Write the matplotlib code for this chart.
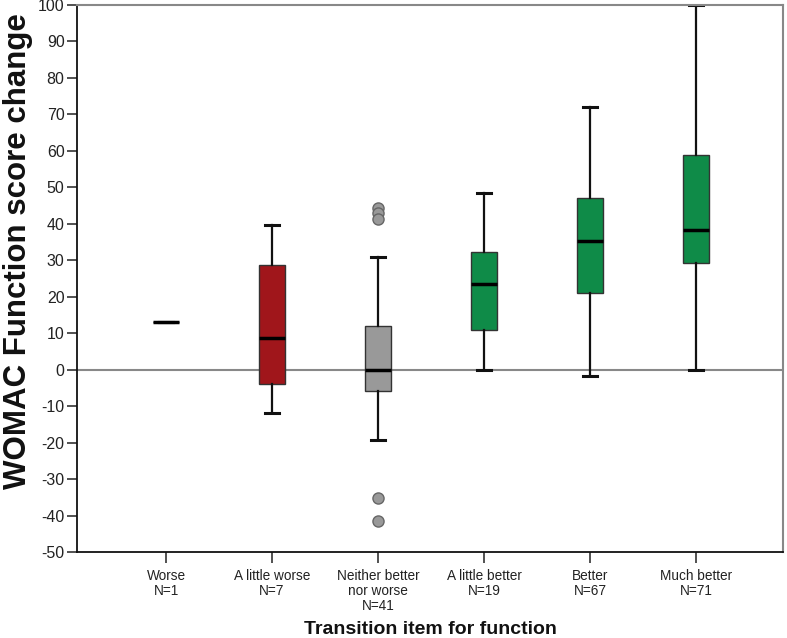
import matplotlib
matplotlib.use("Agg")
import matplotlib.pyplot as plt

plt.rcParams["font.family"] = ["Liberation Sans", "DejaVu Sans"]
plt.rcParams["axes.unicode_minus"] = False

# Category labels and box statistics
categories = ["Worse\nN=1", "A little worse\nN=7", "Neither better\nnor worse\nN=41",
              "A little better\nN=19", "Better\nN=67", "Much better\nN=71"]
medians = [13.2, 8.8, 0.0, 23.6, 35.3, 38.4]
q1 = [13.2, -3.8, -5.9, 11.0, 21.1, 29.3]
q3 = [13.2, 28.8, 11.9, 32.3, 47.1, 58.9]
whislo = [13.2, -11.8, -19.2, 0.0, -1.6, 0.0]
whishi = [13.2, 39.7, 31.0, 48.5, 72.0, 100.0]
fliers = [[], [], [44.4, 43.0, 41.4, -35.3, -41.4], [], [], []]
colors = ["#a0161b", "#a0161b", "#999999", "#0f8b48", "#0f8b48", "#0f8b48"]

stats = []
for i in range(len(categories)):
    stats.append({
        "med": medians[i], "q1": q1[i], "q3": q3[i],
        "whislo": whislo[i], "whishi": whishi[i], "fliers": fliers[i],
    })

fig = plt.figure(figsize=(7.87, 6.38), dpi=100)
ax = fig.add_axes([77 / 787, 1 - 552 / 638, 706 / 787, 547 / 638])

ax.axhline(0, color="#888888", lw=1.5, zorder=1)

positions = list(range(1, len(categories) + 1))
bp = ax.bxp(stats, positions=positions, widths=0.25, patch_artist=True,
            showfliers=True, capwidths=0.13,
            boxprops=dict(edgecolor="#333333", linewidth=1.0),
            medianprops=dict(color="black", linewidth=2.5),
            whiskerprops=dict(color="#111111", linewidth=1.6),
            capprops=dict(color="#111111", linewidth=2.2),
            flierprops=dict(marker="o", markersize=8, markerfacecolor="#999999",
                            markeredgecolor="#666666", markeredgewidth=1.0))
for patch, c in zip(bp["boxes"], colors):
    patch.set_facecolor(c)
    patch.set_zorder(2)

ax.set_xlim(0.16, 6.82)
ax.set_ylim(-50, 100)
ax.set_yticks(range(-50, 101, 10))
ax.set_xticks(positions)
ax.set_xticklabels(categories, fontsize=9.8, linespacing=1.12)
ax.tick_params(axis="y", labelsize=11.5, length=7, width=1.2, pad=2, colors="#333333")
ax.tick_params(axis="x", length=8, width=1.2, pad=4, colors="#333333")
for lbl in ax.get_yticklabels() + ax.get_xticklabels():
    lbl.set_color("#222222")

for s in ["top", "right"]:
    ax.spines[s].set_color("#888888")
    ax.spines[s].set_linewidth(1.5)
for s in ["left", "bottom"]:
    ax.spines[s].set_color("#111111")
    ax.spines[s].set_linewidth(1.3)

fig.text(18 / 787, 1 - 251 / 638, "WOMAC Function score change", rotation=90,
         fontsize=22.5, fontweight="bold", ha="center", va="center", color="#111111")
fig.text(430 / 787, 1 - 629 / 638, "Transition item for function",
         fontsize=14, fontweight="bold", ha="center", va="center", color="#111111")

fig.savefig("out.png", dpi=100)
